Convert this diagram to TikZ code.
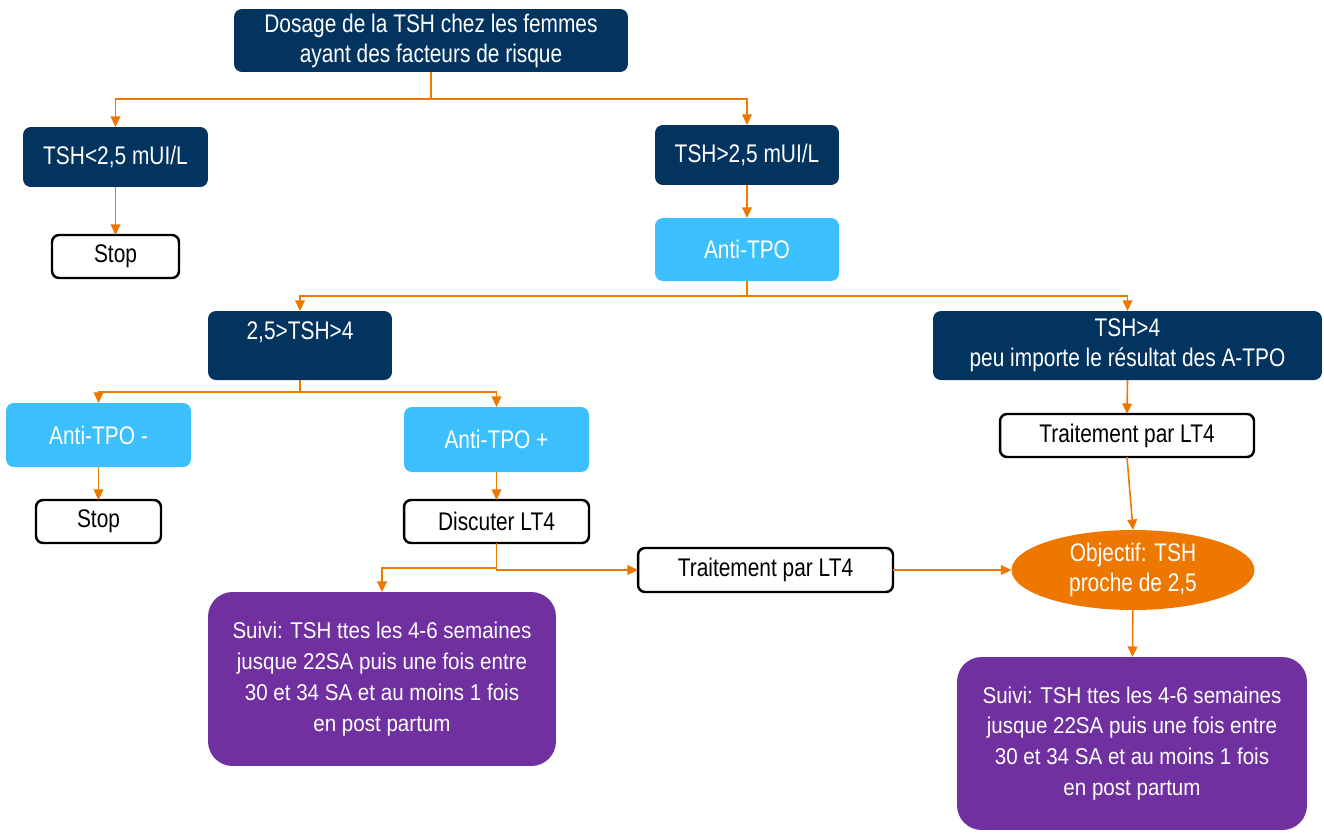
\documentclass[tikz,border=0pt]{standalone}
\usepackage{fontspec}
\setmainfont{Liberation Sans}
\newfontfamily\narrowfont[FakeStretch=0.82]{Liberation Sans}
\newfontfamily\suivifont[FakeStretch=0.9]{Liberation Sans}
\usetikzlibrary{shapes.geometric,arrows.meta}
\definecolor{navy}{HTML}{03345F}
\definecolor{sky}{HTML}{3BBFFD}
\definecolor{flowor}{HTML}{EE7700}
\definecolor{violet}{HTML}{7030A0}

\begin{document}
\begin{tikzpicture}[x=0.02cm, y=-0.02cm,
  every node/.style={inner sep=0pt, outer sep=0pt, align=center,
    font=\narrowfont\fontsize{14.5}{17}\selectfont},
  darkbox/.style={fill=navy, text=white, rounded corners=4.5pt},
  lightbox/.style={fill=sky, text=white, rounded corners=4.5pt},
  whitebox/.style={draw=black, line width=1.4pt, fill=white, text=black, rounded corners=4pt},
  suivibox/.style={fill=violet, text=white, rounded corners=14pt,
    font=\suivifont\fontsize{13}{17.6}\selectfont},
  goal/.style={ellipse, fill=flowor, text=white},
  flow/.style={draw=flowor, line width=0.9pt, -{Triangle[length=6pt,width=5.5pt]}}]
\useasboundingbox (0,0) rectangle (1324,832);

\node[darkbox, minimum width=7.88cm, minimum height=1.26cm] (dosage) at (431,40.5) {Dosage de la TSH chez les femmes\\ayant des facteurs de risque};

\node[darkbox, minimum width=3.7cm, minimum height=1.2cm] (tshlow) at (115.5,157) {TSH<2,5 mUI/L};
\node[whitebox, minimum width=2.54cm, minimum height=0.86cm] (stopa) at (115.5,256.5) {Stop};

\node[darkbox, minimum width=3.68cm, minimum height=1.2cm] (tshhigh) at (747,155) {TSH>2,5 mUI/L};
\node[lightbox, minimum width=3.68cm, minimum height=1.26cm] (antitpo) at (747,249.5) {Anti-TPO};

\node[darkbox, minimum width=3.68cm, minimum height=1.38cm] (mid) at (300,345.5) {2,5>TSH>4\\\mbox{}};
\node[darkbox, minimum width=7.78cm, minimum height=1.38cm] (high) at (1127.5,345.5) {TSH>4\\peu importe le résultat des A-TPO};

\node[lightbox, minimum width=3.7cm, minimum height=1.28cm] (neg) at (98.5,435) {Anti-TPO -};
\node[lightbox, minimum width=3.7cm, minimum height=1.3cm] (pos) at (496.5,439.5) {Anti-TPO +};
\node[whitebox, minimum width=2.5cm, minimum height=0.86cm] (stopb) at (98.5,521.5) {Stop};
\node[whitebox, minimum width=3.7cm, minimum height=0.86cm] (disc) at (496.5,521.5) {Discuter LT4};

\node[whitebox, minimum width=5.08cm, minimum height=0.86cm] (traita) at (1127,435.5) {Traitement par LT4};
\node[whitebox, minimum width=5.1cm, minimum height=0.88cm] (traitb) at (765.5,570) {Traitement par LT4};
\node[goal, minimum width=4.86cm, minimum height=1.6cm] (goal) at (1133,570) {Objectif: TSH\\proche de 2,5};

\node[suivibox, minimum width=6.96cm, minimum height=3.48cm] (suivia) at (382,679) {Suivi: TSH ttes les 4-6 semaines\\jusque 22SA puis une fois entre\\30 et 34 SA et au moins 1 fois\\en post partum};
\node[suivibox, minimum width=7cm, minimum height=3.46cm] (suivib) at (1132,743.5) {Suivi: TSH ttes les 4-6 semaines\\jusque 22SA puis une fois entre\\30 et 34 SA et au moins 1 fois\\en post partum};

% branches
\draw[flow] (dosage.south) -- ++(0,27) -| (tshlow.north);
\draw[flow] (dosage.south) -- ++(0,27) -| (tshhigh.north);
\draw[flow] (tshlow) -- (stopa);
\draw[flow] (tshhigh) -- (antitpo);
\draw[flow] (antitpo.south) -- ++(0,15) -| (mid.north);
\draw[flow] (antitpo.south) -- ++(0,15) -| (high.north);
\draw[flow] (mid.south) -- ++(0,12) -| (neg.north);
\draw[flow] (mid.south) -- ++(0,12) -| (pos.north);
\draw[flow] (neg) -- (stopb);
\draw[flow] (pos) -- (disc);
\draw[flow] (disc.south) -- ++(0,25) -| (suivia.north);
\draw[flow] (disc.south) |- (traitb.west);
\draw[flow] (traitb) -- (goal);
\draw[flow] (high.south) -- (traita.north);
\draw[flow] (traita.south) -- (goal.north);
\draw[flow] (goal) -- (suivib);
\end{tikzpicture}
\end{document}
